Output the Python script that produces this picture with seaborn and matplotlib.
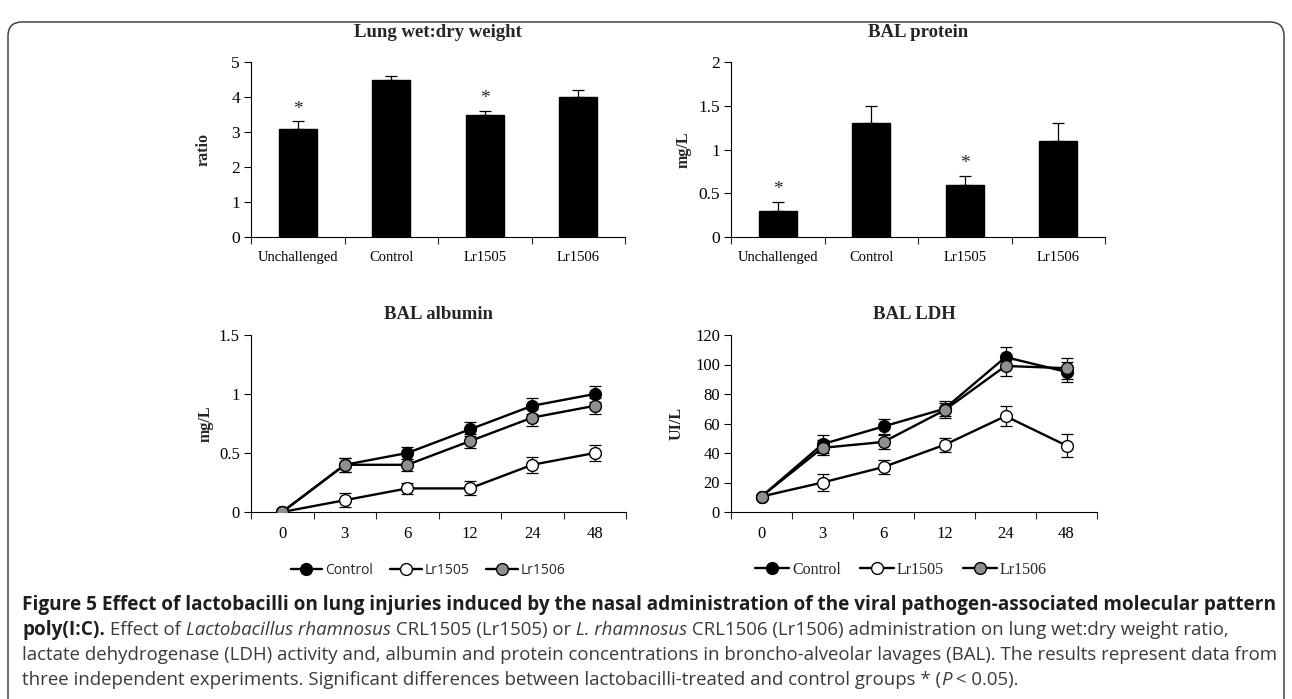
import matplotlib

matplotlib.use("Agg")
import matplotlib.pyplot as plt
import numpy as np
import pandas as pd
import seaborn as sns
from matplotlib.lines import Line2D
from matplotlib.patches import FancyBboxPatch
from matplotlib.transforms import IdentityTransform

# --- data -----------------------------------------------------------------
groups = ["Unchallenged", "Control", "Lr1505", "Lr1506"]
wet_dry = [3.1, 4.5, 3.5, 4.0]
wet_dry_err = [0.2, 0.1, 0.1, 0.2]
protein = [0.3, 1.3, 0.6, 1.1]
protein_err = [0.1, 0.2, 0.1, 0.2]
signif = [True, False, True, False]

hours = ["0", "3", "6", "12", "24", "48"]
series = ["Control", "Lr1505", "Lr1506"]
fills = ["black", "white", "#8f8f8f"]

albumin = {
    "Control": [0.0, 0.4, 0.5, 0.7, 0.9, 1.0],
    "Lr1505": [0.0, 0.1, 0.2, 0.2, 0.4, 0.5],
    "Lr1506": [0.0, 0.4, 0.4, 0.6, 0.8, 0.9],
}
albumin_err = {
    "Control": [0.0, 0.06, 0.05, 0.06, 0.07, 0.07],
    "Lr1505": [0.0, 0.06, 0.05, 0.06, 0.07, 0.07],
    "Lr1506": [0.0, 0.06, 0.05, 0.06, 0.07, 0.07],
}
ldh = {
    "Control": [10.5, 46, 58, 70, 105, 95],
    "Lr1505": [10.5, 20, 30.5, 45.5, 65, 45],
    "Lr1506": [10.5, 43.5, 47.5, 69, 99, 97.5],
}
ldh_err = {
    "Control": [0, 6, 5, 5, 7, 7],
    "Lr1505": [0, 6, 5, 5, 7, 8],
    "Lr1506": [0, 5, 5, 5, 7, 7],
}

wet_ticks = [0, 1, 2, 3, 4, 5]
wet_labels = ["0", "1", "2", "3", "4", "5"]
prot_ticks = [0, 0.5, 1, 1.5, 2]
prot_labels = ["0", "0.5", "1", "1.5", "2"]
alb_ticks = [0, 0.5, 1, 1.5]
alb_labels = ["0", "0.5", "1", "1.5"]
ldh_ticks = [0, 20, 40, 60, 80, 100, 120]
ldh_labels = ["0", "20", "40", "60", "80", "100", "120"]

caption = [
    [("Figure 5 Effect of lactobacilli on lung injuries induced by the nasal administration "
      "of the viral pathogen-associated molecular pattern", "bold")],
    [("poly(I:C).", "bold"), (" Effect of", "normal"), (" Lactobacillus rhamnosus", "italic"),
     (" CRL1505 (Lr1505) or", "normal"), (" L. rhamnosus", "italic"),
     (" CRL1506 (Lr1506) administration on lung wet:dry weight ratio,", "normal")],
    [("lactate dehydrogenase (LDH) activity and, albumin and protein concentrations in "
      "broncho-alveolar lavages (BAL). The results represent data from", "normal")],
    [("three independent experiments. Significant differences between lactobacilli-treated "
      "and control groups * (", "normal"), ("P", "italic"), (" < 0.05).", "normal")],
]

sns.set_style("white")
plt.rcParams["font.family"] = ["Liberation Serif", "DejaVu Serif"]
plt.rcParams["axes.edgecolor"] = "black"

W, H = 1292, 699
fig = plt.figure(figsize=(W / 100, H / 100), dpi=100)
fig.patch.set_facecolor("white")


def px_axes(left, top, right, bottom):
    return fig.add_axes([left / W, 1 - bottom / H, (right - left) / W, (bottom - top) / H])


def style_axes(ax, n, ylim, yticks, ylabels, xlabels, xsize, ysize):
    ax.set_xlim(-0.5, n - 0.5)
    ax.set_ylim(*ylim)
    ax.set_yticks(yticks, ylabels)
    ax.set_xticks(range(n), xlabels)
    ax.set_xticks(np.arange(-0.5, n), minor=True)
    ax.tick_params(axis="x", which="major", length=0, pad=10, labelsize=xsize, colors="black")
    ax.tick_params(axis="x", which="minor", length=5, width=0.8, direction="out", bottom=True)
    ax.tick_params(axis="y", length=5, width=0.8, direction="out", left=True, pad=3,
                   labelsize=ysize, colors="black")
    sns.despine(ax=ax)
    for s in ("left", "bottom"):
        ax.spines[s].set_linewidth(0.8)


def bar_panel(ax, vals, errs, title, ylabel, ymax, yticks, ylabels):
    df = pd.DataFrame({"group": groups, "value": vals})
    sns.barplot(data=df, x="group", y="value", color="black", edgecolor="black",
                width=0.41, errorbar=None, ax=ax)
    ax.errorbar(range(len(vals)), vals, yerr=[[0] * len(vals), errs], fmt="none",
                ecolor="black", elinewidth=0.9, capsize=4, capthick=0.9)
    for i, (v, e, s) in enumerate(zip(vals, errs, signif)):
        if s:
            ax.text(i, v + e + 0.07 * ymax, "*", ha="center", va="center", fontsize=14)
    style_axes(ax, len(groups), (0, ymax), yticks, ylabels, groups, 10.5, 12.5)
    ax.set_xlabel("")
    ax.set_ylabel(ylabel, fontsize=11.5, fontweight="bold", va="center")
    ax.text(0.5, 1.166, title, transform=ax.transAxes, ha="center", va="center",
            fontsize=13.5, fontweight="bold")


def line_panel(ax, data, errs, title, ylabel, ymax, yticks, ylabels):
    x = np.arange(len(hours))
    for name, fill in zip(series, fills):
        ax.errorbar(x, data[name], yerr=errs[name], fmt="none", ecolor="black",
                    elinewidth=0.9, capsize=4, capthick=0.9, zorder=2)
        sns.lineplot(x=x, y=data[name], ax=ax, color="black", lw=1.7, marker="o",
                     markersize=8.5, markerfacecolor=fill, markeredgecolor="black",
                     markeredgewidth=1, zorder=3)
    style_axes(ax, len(hours), (0, ymax), yticks, ylabels, hours, 12, 12)
    ax.set_ylabel(ylabel, fontsize=11.5, fontweight="bold", va="center")
    ax.text(0.5, 1.113, title, transform=ax.transAxes, ha="center", va="center",
            fontsize=13.5, fontweight="bold")


ax1 = px_axes(251, 62, 625, 237)
bar_panel(ax1, wet_dry, wet_dry_err, "Lung wet:dry weight", "ratio", 5, wet_ticks, wet_labels)
ax1.yaxis.set_label_coords(-0.126, 0.5)

ax2 = px_axes(731, 62, 1105, 237)
bar_panel(ax2, protein, protein_err, "BAL protein", "mg/L", 2, prot_ticks, prot_labels)
ax2.yaxis.set_label_coords(-0.128, 0.5)

ax3 = px_axes(251, 335, 626, 512)
line_panel(ax3, albumin, albumin_err, "BAL albumin", "mg/L", 1.5, alb_ticks, alb_labels)
ax3.yaxis.set_label_coords(-0.122, 0.5)

ax4 = px_axes(731, 335, 1097, 512)
line_panel(ax4, ldh, ldh_err, "BAL LDH", "UI/L", 120, ldh_ticks, ldh_labels)
ax4.yaxis.set_label_coords(-0.148, 0.5)

handles = [Line2D([], [], color="black", lw=1.7, marker="o", markersize=8.5,
                  markerfacecolor=f, markeredgecolor="black") for f in fills]
fig.legend(handles, series, loc="center", bbox_to_anchor=(428 / W, 1 - 570 / H), ncol=3,
           frameon=False, handlelength=2.3, handletextpad=0.2, columnspacing=1.2,
           prop={"family": "Open Sans", "size": 10})
fig.legend(handles, series, loc="center", bbox_to_anchor=(901 / W, 1 - 570 / H), ncol=3,
           frameon=False, handlelength=2.1, handletextpad=0.2, columnspacing=1.2,
           prop={"family": "Liberation Serif", "size": 11.5})

# rounded frame around the whole figure (bottom edge runs off the image)
frame = FancyBboxPatch((8, -30), 1276, H - 22 + 30, boxstyle="round,pad=0,rounding_size=14",
                       transform=IdentityTransform(), fill=False, edgecolor="#444444", lw=1.1)
fig.add_artist(frame)

# caption with mixed bold / italic runs
renderer = fig.canvas.get_renderer()
styles = {
    "bold": dict(fontweight="bold", fontstyle="normal", color="#1e1e1e", fontsize=13.7),
    "normal": dict(fontweight="normal", fontstyle="normal", color="#3a3a3a", fontsize=13.4),
    "italic": dict(fontweight="normal", fontstyle="italic", color="#3a3a3a", fontsize=13.4),
}
baselines = [610, 635, 660, 685]
for line, base in zip(caption, baselines):
    x = 22.0
    for text, style in line:
        t = fig.text(x / W, 1 - base / H, text, ha="left", va="baseline",
                     family=["Open Sans", "DejaVu Sans"], **styles[style])
        x = t.get_window_extent(renderer).x1

fig.savefig("out.png", dpi=100)
